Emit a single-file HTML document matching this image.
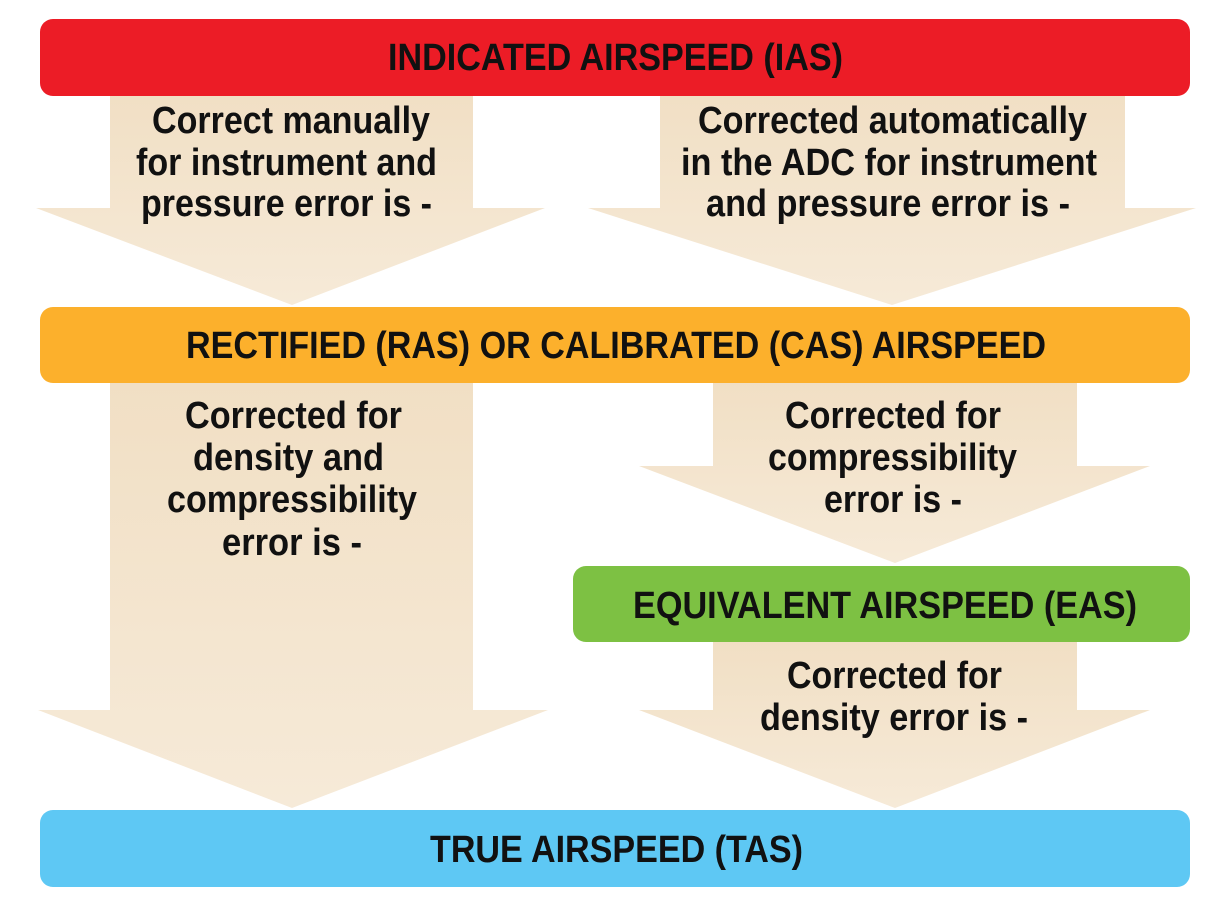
<!DOCTYPE html>
<html><head><meta charset="utf-8"><style>
html,body{margin:0;padding:0;background:#fff;}
svg{display:block;}
text{font-family:"Liberation Sans Narrow","Liberation Sans",sans-serif;font-weight:bold;fill:#111;font-size:38px;}
</style></head><body>
<svg width="1210" height="901" viewBox="0 0 1210 901" xmlns="http://www.w3.org/2000/svg">
<defs>
<linearGradient id="g" x1="0" y1="0" x2="0" y2="1"><stop offset="0" stop-color="#f1dfc4"/><stop offset="1" stop-color="#f6ead8"/></linearGradient>
</defs>
<rect width="1210" height="901" fill="#fff"/>
<!-- arrows -->
<polygon fill="url(#g)" points="110,90 473,90 473,208 545,208 292,305 36,208 110,208"/>
<polygon fill="url(#g)" points="660,90 1125,90 1125,208 1196,208 892,305 588,208 660,208"/>
<polygon fill="url(#g)" points="110,380 473,380 473,710 548,710 292,808 38,710 110,710"/>
<polygon fill="url(#g)" points="713,380 1077,380 1077,466 1150,466 895,563 639,466 713,466"/>
<polygon fill="url(#g)" points="713,640 1077,640 1077,710 1150,710 895,808 639,710 713,710"/>
<!-- bars -->
<rect x="40" y="19" width="1150" height="77" rx="13" fill="#ec1c26"/>
<rect x="40" y="307" width="1150" height="76" rx="13" fill="#fcb02c"/>
<rect x="573" y="566" width="617" height="76" rx="13" fill="#7dc143"/>
<rect x="40" y="810" width="1150" height="77" rx="13" fill="#5ec8f4"/>
<!-- titles -->
<text x="388" y="70" textLength="455" lengthAdjust="spacingAndGlyphs">INDICATED AIRSPEED (IAS)</text>
<text x="186" y="358" textLength="860" lengthAdjust="spacingAndGlyphs">RECTIFIED (RAS) OR CALIBRATED (CAS) AIRSPEED</text>
<text x="633" y="618" textLength="504" lengthAdjust="spacingAndGlyphs">EQUIVALENT AIRSPEED (EAS)</text>
<text x="430" y="862" textLength="373" lengthAdjust="spacingAndGlyphs">TRUE AIRSPEED (TAS)</text>
<!-- body -->
<text x="152" y="133" textLength="278" lengthAdjust="spacingAndGlyphs">Correct manually</text>
<text x="136" y="175" textLength="301" lengthAdjust="spacingAndGlyphs">for instrument and</text>
<text x="141" y="216" textLength="291" lengthAdjust="spacingAndGlyphs">pressure error is -</text>
<text x="698" y="133" textLength="389" lengthAdjust="spacingAndGlyphs">Corrected automatically</text>
<text x="681" y="175" textLength="416" lengthAdjust="spacingAndGlyphs">in the ADC for instrument</text>
<text x="706" y="216" textLength="364" lengthAdjust="spacingAndGlyphs">and pressure error is -</text>
<text x="185" y="428" textLength="217" lengthAdjust="spacingAndGlyphs">Corrected for</text>
<text x="193" y="470" textLength="191" lengthAdjust="spacingAndGlyphs">density and</text>
<text x="167" y="512" textLength="250" lengthAdjust="spacingAndGlyphs">compressibility</text>
<text x="222" y="555" textLength="140" lengthAdjust="spacingAndGlyphs">error is -</text>
<text x="785" y="428" textLength="216" lengthAdjust="spacingAndGlyphs">Corrected for</text>
<text x="768" y="470" textLength="249" lengthAdjust="spacingAndGlyphs">compressibility</text>
<text x="824" y="512" textLength="138" lengthAdjust="spacingAndGlyphs">error is -</text>
<text x="787" y="688" textLength="215" lengthAdjust="spacingAndGlyphs">Corrected for</text>
<text x="760" y="730" textLength="268" lengthAdjust="spacingAndGlyphs">density error is -</text>
</svg>
</body></html>
